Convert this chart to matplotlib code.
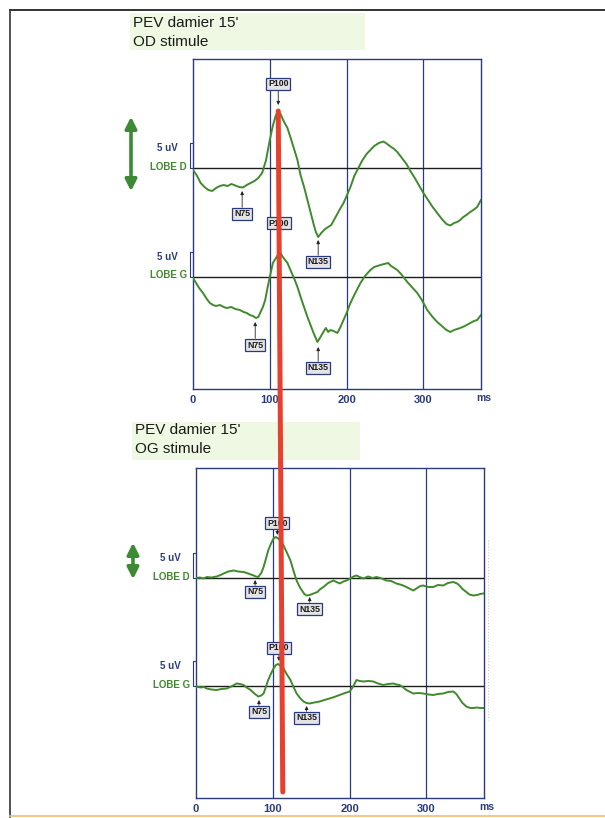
import matplotlib
matplotlib.use("Agg")
import matplotlib.pyplot as plt
from matplotlib.patches import Rectangle, FancyArrowPatch, ConnectionPatch
from matplotlib.lines import Line2D
import matplotlib.transforms as mtransforms

W, H = 605, 818

# ---- data (ms, uV) ----
od_lobe_d_ms = [0, 5, 10, 15, 20, 25, 30, 35, 40, 45, 50, 55, 60, 65, 70, 75, 80, 85, 90, 95,
                100, 104, 108, 111, 114, 118, 123, 128, 132, 136, 140, 145, 149, 153, 157, 160,
                163, 167, 172, 176, 180, 185, 190, 196, 200, 205, 210, 214, 220, 226, 231, 236,
                242, 248, 252, 258, 262, 266, 272, 278, 283, 288, 294, 300, 306, 312, 318, 324,
                330, 335, 340, 344, 348, 352, 356, 360, 365, 370, 375]
od_lobe_d_uv = [-0.4, -1.5, -3.0, -3.8, -4.4, -4.6, -4.0, -3.6, -3.4, -3.6, -3.2, -3.5, -3.8, -3.9,
                -3.4, -3.0, -2.6, -2.0, -1.0, 1.5, 5.6, 8.5, 10.6, 11.3, 10.8, 9.4, 8.0, 5.6, 3.6,
                1.6, -1.4, -4.0, -6.4, -8.8, -11.2, -12.8, -13.8, -13.0, -12.2, -11.8, -11.4,
                -10.0, -8.6, -7.0, -5.6, -3.8, -1.6, -0.4, 1.4, 2.8, 3.6, 4.4, 5.0, 5.3, 4.9, 4.2,
                3.8, 3.2, 2.0, 0.8, -0.6, -1.8, -3.4, -5.0, -6.4, -7.8, -9.0, -10.2, -11.2, -11.5,
                -11.0, -10.8, -10.4, -9.8, -9.4, -8.9, -8.4, -7.8, -6.4]

od_lobe_g_ms = [0, 4, 8, 13, 18, 22, 26, 30, 35, 40, 44, 50, 55, 61, 66, 70, 74, 78, 82, 85, 88,
                91, 94, 97, 100, 104, 108, 113, 117, 123, 128, 132, 136, 141, 145, 149, 153, 157,
                162, 166, 169, 173, 176, 179, 183, 188, 192, 196, 200, 205, 210, 214, 218, 224,
                231, 236, 240, 244, 249, 254, 258, 262, 266, 272, 279, 285, 292, 298, 305, 312,
                318, 324, 330, 335, 340, 344, 348, 354, 361, 366, 370, 375]
od_lobe_g_uv = [-0.2, -1.2, -2.2, -3.2, -4.4, -5.2, -5.6, -5.8, -5.6, -6.0, -6.2, -6.0, -6.4, -6.6,
                -7.0, -7.2, -7.6, -7.8, -8.2, -8.0, -7.0, -6.0, -4.6, -2.2, 0.0, 2.8, 3.8, 5.0, 4.0,
                2.8, 1.0, -0.4, -2.0, -4.4, -6.2, -8.0, -9.6, -11.2, -13.0, -12.0, -11.2, -10.2,
                -11.0, -10.6, -10.8, -11.2, -10.0, -8.6, -7.2, -5.2, -3.6, -2.4, -1.2, 0.2, 1.4,
                2.0, 2.2, 2.4, 2.6, 2.8, 2.2, 1.8, 1.4, 0.4, -1.0, -2.0, -3.2, -4.6, -6.6, -8.0,
                -9.0, -9.8, -10.6, -11.0, -10.6, -10.4, -10.2, -9.8, -9.2, -8.8, -8.6, -7.6]

og_lobe_d_ms = [0, 5, 10, 14, 20, 27, 32, 36, 42, 49, 55, 62, 68, 75, 78, 81, 85, 88, 91, 94, 98,
                101, 104, 107, 111, 114, 118, 123, 127, 131, 135, 138, 141, 144, 148, 153, 158,
                162, 166, 172, 179, 183, 187, 192, 196, 202, 205, 209, 213, 218, 224, 230, 235,
                240, 248, 254, 261, 268, 274, 279, 283, 288, 292, 296, 302, 309, 315, 322, 328,
                335, 340, 343, 347, 352, 356, 361, 366, 370, 374]
og_lobe_d_uv = [0.0, 0.1, -0.1, 0.2, 0.1, 0.3, 0.6, 0.9, 1.3, 1.5, 1.3, 1.2, 0.9, 0.5, 0.3, 0.2,
                1.0, 2.2, 3.8, 5.5, 7.0, 7.9, 8.2, 7.9, 7.2, 6.5, 5.2, 3.5, 1.4, -0.5, -1.8, -2.5,
                -3.2, -3.5, -3.4, -3.1, -2.8, -2.2, -1.8, -1.0, -0.5, -0.8, -1.1, -0.7, -0.5, 0.0,
                0.3, 0.5, 0.2, -0.1, 0.3, 0.0, 0.2, 0.0, -0.5, -0.6, -1.1, -1.4, -1.8, -2.2, -2.5,
                -2.0, -1.6, -1.5, -1.8, -1.8, -1.4, -1.5, -1.0, -0.8, -1.1, -1.5, -2.2, -2.8, -3.3,
                -3.5, -3.4, -3.2, -3.1]

og_lobe_g_ms = [0, 6, 10, 14, 20, 27, 33, 40, 46, 53, 57, 62, 66, 71, 76, 81, 85, 88, 91, 94, 98,
                101, 104, 107, 110, 114, 118, 123, 127, 131, 136, 140, 144, 148, 154, 161, 167,
                174, 180, 187, 194, 200, 203, 206, 209, 213, 218, 224, 231, 237, 244, 250, 257,
                261, 265, 270, 274, 279, 283, 290, 296, 303, 309, 315, 322, 328, 335, 339, 343,
                347, 352, 357, 361, 366, 370, 374]
og_lobe_g_uv = [-0.1, -0.3, -0.2, -0.5, -0.7, -0.8, -0.6, -0.5, -0.1, 0.5, 0.4, 0.2, -0.3, -0.8,
                -1.5, -2.1, -1.9, -1.5, -0.2, 1.2, 2.6, 3.5, 4.2, 4.4, 4.0, 3.5, 2.4, 1.2, -0.2,
                -1.5, -2.5, -3.1, -3.4, -3.5, -3.3, -3.1, -2.8, -2.5, -2.2, -1.8, -1.4, -1.1, -0.5,
                0.3, 1.2, 1.0, 0.9, 1.0, 0.9, 0.5, 0.2, 0.4, 0.5, 0.3, 0.2, -0.3, -0.8, -1.2, -1.5,
                -1.4, -1.5, -1.7, -1.8, -1.6, -1.5, -1.2, -1.1, -1.6, -2.5, -3.4, -4.1, -4.4, -4.4,
                -4.3, -4.4, -4.4]

# peak labels: (name, latency ms, label level uV, arrow tip uV) relative to each baseline
od_d_peaks = [("P100", 111, 16.8, 12.6), ("N75", 64, -9.2, -4.6), ("N135", 163, -18.8, -14.4)]
od_g_peaks = [("P100", 112, 10.8, 6.0), ("N75", 81, -13.6, -9.0), ("N135", 163, -18.2, -14.0)]
og_d_peaks = [("P100", 106, 11.0, 8.6), ("N75", 77, -2.8, -0.4), ("N135", 148, -6.2, -3.8)]
og_g_peaks = [("P100", 108, 7.6, 5.0), ("N75", 82, -5.2, -2.8), ("N135", 144, -6.4, -4.0)]

x_ticks = [0, 100, 200, 300]
GREEN = "#3f8a2c"
NAVY = "#2b3a80"
NARROW = ["Liberation Sans Narrow", "Liberation Sans", "DejaVu Sans"]
SANS = ["Liberation Sans", "DejaVu Sans"]


def rect(x0, y0, x1, y1):
    return [x0 / W, 1 - y1 / H, (x1 - x0) / W, (y1 - y0) / H]


def fpt(x, y):
    return (x / W, 1 - y / H)


def draw_panel(ax, ymax, ymin, g_offset, traces, peaks):
    ax.set_xlim(0, 375)
    ax.set_ylim(ymin, ymax)
    for s in ax.spines.values():
        s.set_color(NAVY)
        s.set_linewidth(1.0)
    ax.set_yticks([])
    ax.set_xticks(x_ticks)
    ax.set_xticklabels([str(t) for t in x_ticks])
    ax.tick_params(axis="x", length=0, pad=4, labelsize=8, labelcolor=NAVY)
    for lab in ax.get_xticklabels():
        lab.set_fontweight("bold")
        lab.set_family(NARROW)
    ax.text(1.01, -0.027, "ms", transform=ax.transAxes, ha="center", va="center",
            fontsize=7.5, fontweight="bold", color=NAVY, family=NARROW)
    for t in x_ticks[1:]:
        ax.axvline(t, color=NAVY, lw=0.9, zorder=1)

    trans = mtransforms.blended_transform_factory(ax.transAxes, ax.transData)
    for (ms, uv), base, name in zip(traces, [0, g_offset], ["LOBE D", "LOBE G"]):
        ax.axhline(base, color="#1e1e1e", lw=1.0, zorder=2)
        ax.plot(ms, [v + base for v in uv], color=GREEN, lw=1.4, zorder=3)
        ax.plot([-0.002, -0.011, -0.011, -0.002], [base + 5, base + 5, base, base],
                transform=trans, color=NAVY, lw=0.8, clip_on=False)
        ax.text(-0.052, base + 4.0, "5 uV", transform=trans, ha="right", va="center",
                fontsize=7, fontweight="bold", color=NAVY, family=NARROW)
        ax.text(-0.022, base + 0.3, name, transform=trans, ha="right", va="center",
                fontsize=7, fontweight="bold", color=GREEN, family=NARROW)

    for plist, base in zip(peaks, [0, g_offset]):
        for name, lat, ytxt, ytip in plist:
            ax.annotate(name, xy=(lat, base + ytip), xytext=(lat, base + ytxt),
                        ha="center", va="center", fontsize=6.3, fontweight="bold",
                        color="#1a1a1a", family=NARROW, zorder=5,
                        bbox=dict(boxstyle="square,pad=0.2", fc="#e4e4e4", ec=NAVY, lw=0.9),
                        arrowprops=dict(arrowstyle="-|>", lw=0.6, color="#222222",
                                        mutation_scale=5, shrinkA=0, shrinkB=0))


fig = plt.figure(figsize=(W / 100, H / 100), dpi=100)

# outer frame of the page
fig.add_artist(Line2D([10 / W, 10 / W], [1 - 10 / H, 1 - 817 / H], color="#333333", lw=1.2))
fig.add_artist(Line2D([10 / W, 1], [1 - 10 / H, 1 - 10 / H], color="#333333", lw=1.4))
fig.add_artist(Line2D([10 / W, 1], [1 - 816 / H, 1 - 816 / H], color="#f0c070", lw=1.2))

# title backgrounds and titles
for (x0, y0, x1, y1), l1, l2, yb in [((130, 13, 365, 50), "PEV damier 15'", "OD stimule", 23),
                                     ((132, 422, 360, 460), "PEV damier 15'", "OG stimule", 430)]:
    fig.add_artist(Rectangle(fpt(x0, y1), (x1 - x0) / W, (y1 - y0) / H,
                             transform=fig.transFigure, fc="#eef8e2", ec="none"))
    fig.text(*fpt(x0 + 3, yb), l1, fontsize=11, color="#1a1a1a", family=SANS, va="center")
    fig.text(*fpt(x0 + 3, yb + 19), l2, fontsize=11, color="#1a1a1a", family=SANS, va="center")

ax1 = fig.add_axes(rect(193, 59, 481, 389))
draw_panel(ax1, 21.8, -44.2, -21.8,
           [(od_lobe_d_ms, od_lobe_d_uv), (od_lobe_g_ms, od_lobe_g_uv)],
           [od_d_peaks, od_g_peaks])

ax2 = fig.add_axes(rect(196, 468, 484, 798))
draw_panel(ax2, 22.0, -44.0, -21.6,
           [(og_lobe_d_ms, og_lobe_d_uv), (og_lobe_g_ms, og_lobe_g_uv)],
           [og_d_peaks, og_g_peaks])

# faint scan artefact at the right of the lower panel
fig.add_artist(Line2D([488 / W, 488 / W], [1 - 540 / H, 1 - 720 / H], color="#c8c8c8", lw=0.8, ls=":"))

# green double arrows
for x, y0, y1 in [(131, 114, 194), (133, 540, 582)]:
    fig.add_artist(FancyArrowPatch(fpt(x, y0), fpt(x, y1), transform=fig.transFigure,
                                   arrowstyle="<|-|>", mutation_scale=17, color="#3c8a34", lw=2.6))

# red P100 latency line from the upper to the lower panel
fig.add_artist(ConnectionPatch(xyA=(111, 11.4), coordsA=ax1.transData,
                               xyB=(113, -42.8), coordsB=ax2.transData,
                               color="#e8402e", lw=3.6, zorder=10))

fig.savefig("out.png", dpi=100)
